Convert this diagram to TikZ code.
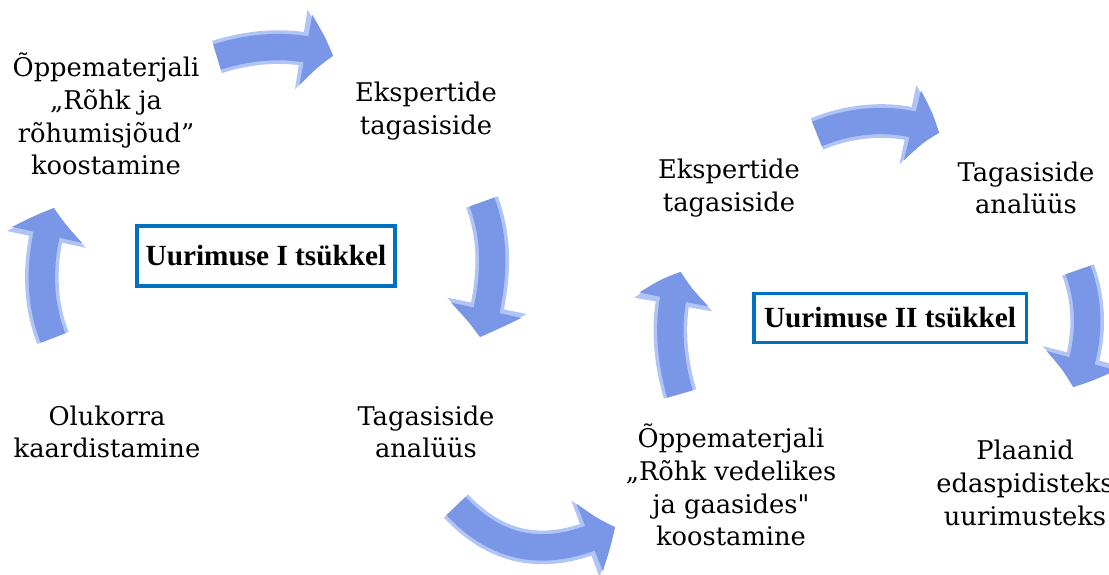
\documentclass[tikz,border=0pt]{standalone}
\usepackage{fontspec}
\setmainfont{DejaVu Serif}
\newfontfamily\cyclefont{Liberation Serif}
\newfontfamily\straightfont{DejaVu Serif}[Ligatures=TeXOff]
\usetikzlibrary{arrows.meta, bending, positioning}
\definecolor{cycleblue}{RGB}{0, 112, 192}
\definecolor{arrowblue}{RGB}{122, 150, 230}
\definecolor{arrowlight}{RGB}{176, 196, 246}

\tikzset{
  stagetext/.style={align=center, inner sep=0pt, font=\fontsize{18.3}{23.3}\selectfont},
  cyclebox/.style={draw=cycleblue, line width=2.2pt, fill=white, inner sep=0pt,
    font=\cyclefont\bfseries\fontsize{20.8}{24}\selectfont},
  flowarrow/.style={
    preaction={draw=arrowlight, line width=0.84cm, -{Triangle[length=0.82cm, width=1.95cm, bend]}},
    draw=arrowblue, line width=0.66cm, -{Triangle[length=0.7cm, width=1.74cm, bend]}}
}

\begin{document}
\begin{tikzpicture}[x=0.025cm, y=-0.025cm]
  \clip (0,0) rectangle (1109,574);

  % Cycle I
  \node[stagetext] (plan1) at (106,114) {Õppematerjali\\„Rõhk ja\\rõhumisjõud”\\koostamine};
  \node[stagetext] (expert1) at (426,111) {Ekspertide\\tagasiside};
  \node[stagetext] (analysis1) at (426,432) {Tagasiside\\analüüs};
  \node[stagetext] (mapping) at (107,432) {Olukorra\\kaardistamine};
  \node[cyclebox, minimum width=6.45cm, minimum height=1.5cm] (cycle1) at (266,256) {Uurimuse I tsükkel};

  % Cycle II
  \node[stagetext] (plan2) at (731,485) {Õppematerjali\\„Rõhk vedelikes\\ja gaasides{\straightfont "}\\koostamine};
  \node[stagetext] (expert2) at (729,188) {Ekspertide\\tagasiside};
  \node[stagetext] (analysis2) at (1026,188) {Tagasiside\\analüüs};
  \node[stagetext] (future) at (1025,483) {Plaanid\\edaspidisteks\\uurimusteks};
  \node[cyclebox, minimum width=6.8cm, minimum height=1.22cm] (cycle2) at (890,318) {Uurimuse II tsükkel};

  % arrow ends
  \coordinate (m1a) at (53,338);   \coordinate (m1b) at (54,208);
  \coordinate (p1a) at (217,57);   \coordinate (p1b) at (333,56);
  \coordinate (e1a) at (482,202);  \coordinate (e1b) at (480,337);
  \coordinate (a1a) at (456,506);  \coordinate (a1b) at (615,527);
  \coordinate (p2a) at (680,394);  \coordinate (p2b) at (681,272);
  \coordinate (e2a) at (817,134);  \coordinate (e2b) at (939,133);
  \coordinate (a2a) at (1078,270); \coordinate (a2b) at (1073,387);

  % arrows
  \draw[flowarrow] (m1a) .. controls (38,300) and (38,255) .. (m1b);
  \draw[flowarrow] (p1a) .. controls (255,45) and (295,43) .. (p1b);
  \draw[flowarrow] (e1a) .. controls (496,240) and (496,280) .. (e1b);
  \draw[flowarrow] (a1a) .. controls (500,553) and (552,560) .. (a1b);
  \draw[flowarrow] (p2a) .. controls (667,350) and (667,305) .. (p2b);
  \draw[flowarrow] (e2a) .. controls (850,120) and (897,114) .. (e2b);
  \draw[flowarrow] (a2a) .. controls (1091,305) and (1091,345) .. (a2b);
\end{tikzpicture}
\end{document}
